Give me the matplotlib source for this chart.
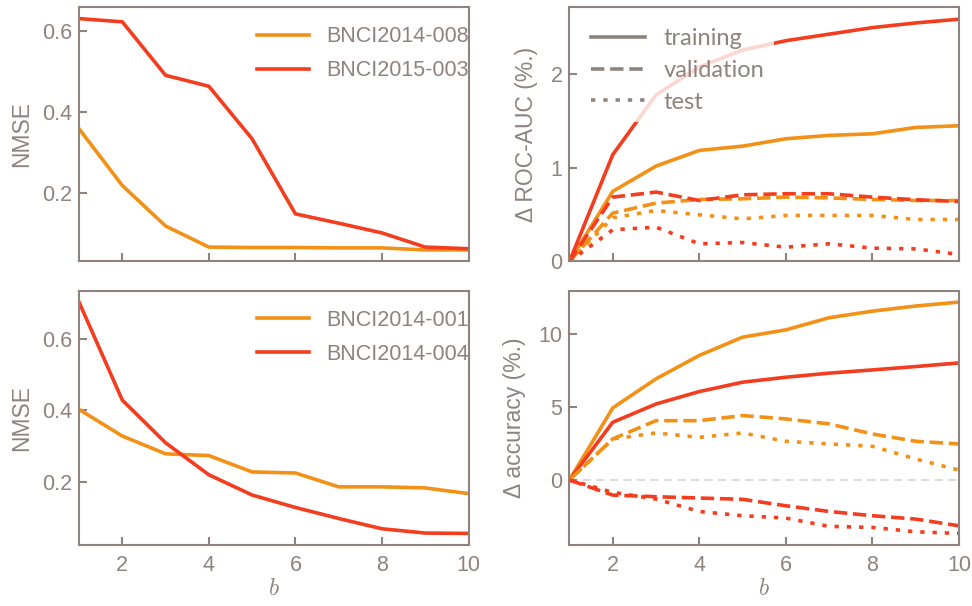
import numpy as np
import matplotlib
matplotlib.use('Agg')
import matplotlib.pyplot as plt
from matplotlib.lines import Line2D

plt.rcParams['font.family'] = ['Liberation Sans', 'DejaVu Sans']
plt.rcParams['mathtext.fontset'] = 'cm'

gray = '#8e837d'
orange = '#f39117'
red = '#f43c1f'

b = [1, 2, 3, 4, 5, 6, 7, 8, 9, 10]

# top-left: NMSE
nmse_008 = [0.358, 0.218, 0.118, 0.066, 0.065, 0.065, 0.064, 0.064, 0.059, 0.059]
nmse_003 = [0.630, 0.622, 0.490, 0.463, 0.333, 0.148, 0.125, 0.101, 0.066, 0.062]

# bottom-left: NMSE
nmse_001 = [0.403, 0.328, 0.278, 0.273, 0.227, 0.224, 0.185, 0.185, 0.182, 0.166]
nmse_004 = [0.705, 0.429, 0.309, 0.219, 0.162, 0.127, 0.096, 0.067, 0.055, 0.054]

# top-right: delta ROC-AUC
auc_train_o = [0, 0.749, 1.02, 1.187, 1.233, 1.312, 1.348, 1.365, 1.433, 1.451]
auc_train_r = [0, 1.141, 1.78, 2.08, 2.26, 2.36, 2.43, 2.50, 2.55, 2.59]
auc_val_o = [0, 0.517, 0.624, 0.663, 0.670, 0.688, 0.680, 0.663, 0.652, 0.652]
auc_val_r = [0, 0.688, 0.742, 0.652, 0.713, 0.724, 0.724, 0.688, 0.660, 0.642]
auc_test_o = [0, 0.467, 0.545, 0.499, 0.456, 0.492, 0.492, 0.492, 0.449, 0.449]
auc_test_r = [0, 0.339, 0.367, 0.189, 0.203, 0.153, 0.189, 0.143, 0.135, 0.075]

# bottom-right: delta accuracy
acc_train_o = [0, 4.93, 6.92, 8.52, 9.77, 10.27, 11.1, 11.55, 11.9, 12.17]
acc_train_r = [0, 3.95, 5.2, 6.05, 6.69, 7.03, 7.31, 7.53, 7.76, 8.01]
acc_val_o = [0, 2.81, 4.06, 4.06, 4.41, 4.18, 3.84, 3.15, 2.65, 2.47]
acc_val_r = [0, -1.03, -1.14, -1.23, -1.32, -1.76, -2.15, -2.44, -2.67, -3.13]
acc_test_o = [0, 2.81, 3.22, 2.92, 3.22, 2.65, 2.47, 2.31, 1.44, 0.68]
acc_test_r = [0, -0.84, -1.3, -2.15, -2.44, -2.6, -3.17, -3.24, -3.54, -3.65]

lw = 2.6
dash = (0, (3.7, 1.6))
dot = (0, (1.2, 2.2))

fig, axes = plt.subplots(2, 2, figsize=(9.72, 6.06), dpi=100, sharex=True)
fig.subplots_adjust(left=0.0813, right=0.9866, top=0.9884, bottom=0.1007,
                    wspace=0.259, hspace=0.114)

for ax in axes.flat:
    for s in ax.spines.values():
        s.set_color(gray)
        s.set_linewidth(1.5)
    ax.tick_params(direction='in', length=5.5, width=1.5, color=gray,
                   labelcolor=gray, labelsize=15.5, pad=5)
    ax.tick_params(axis='x', pad=7)
    ax.set_xlim(1, 10)
    ax.set_xticks([2, 4, 6, 8, 10])

ax = axes[0, 0]
ax.plot(b, nmse_008, color=orange, lw=lw, label='BNCI2014-008')
ax.plot(b, nmse_003, color=red, lw=lw, label='BNCI2015-003')
ax.set_yticks([0.2, 0.4, 0.6])
ax.set_ylabel('NMSE', color=gray, fontsize=16.5, labelpad=6)
ax.legend(loc='upper left', bbox_to_anchor=(0.408, 1.0), frameon=False,
          fontsize=15.5, handlelength=2.4, labelspacing=0.6, labelcolor=gray)

ax = axes[1, 0]
ax.plot(b, nmse_001, color=orange, lw=lw, label='BNCI2014-001')
ax.plot(b, nmse_004, color=red, lw=lw, label='BNCI2014-004')
ax.set_yticks([0.2, 0.4, 0.6])
ax.set_ylabel('NMSE', color=gray, fontsize=16.5, labelpad=6)
ax.set_xlabel('$b$', color=gray, fontsize=17, labelpad=2)
ax.legend(loc='upper left', bbox_to_anchor=(0.408, 1.0), frameon=False,
          fontsize=15.5, handlelength=2.4, labelspacing=0.6, labelcolor=gray)

ax = axes[0, 1]
ax.plot(b, auc_train_o, color=orange, lw=lw)
ax.plot(b, auc_train_r, color=red, lw=lw)
ax.plot(b, auc_val_o, color=orange, lw=lw, ls=dash)
ax.plot(b, auc_val_r, color=red, lw=lw, ls=dash)
ax.plot(b, auc_test_o, color=orange, lw=lw, ls=dot)
ax.plot(b, auc_test_r, color=red, lw=lw, ls=dot)
ax.set_ylim(0, 2.72)
ax.set_yticks([0, 1, 2])
ax.set_ylabel('Δ ROC-AUC (%.)', color=gray, fontsize=16.5, labelpad=9)
handles = [Line2D([], [], color=gray, lw=lw),
           Line2D([], [], color=gray, lw=lw, ls=dash),
           Line2D([], [], color=gray, lw=lw, ls=dot)]
ax.legend(handles, ['training', 'validation', 'test'], loc='upper left',
          prop={'family': ['Lato', 'DejaVu Sans'], 'size': 17},
          handlelength=2.3, labelspacing=0.45, labelcolor=gray,
          facecolor='white', framealpha=0.8, edgecolor='none', fancybox=False)

ax = axes[1, 1]
ax.axhline(0, color='#dddddd', lw=1.5, ls=(0, (4, 2.5)), zorder=1)
ax.plot(b, acc_train_o, color=orange, lw=lw)
ax.plot(b, acc_train_r, color=red, lw=lw)
ax.plot(b, acc_val_o, color=orange, lw=lw, ls=dash)
ax.plot(b, acc_val_r, color=red, lw=lw, ls=dash)
ax.plot(b, acc_test_o, color=orange, lw=lw, ls=dot)
ax.plot(b, acc_test_r, color=red, lw=lw, ls=dot)
ax.set_yticks([0, 5, 10])
ax.set_ylabel('Δ accuracy (%.)', color=gray, fontsize=16.5, labelpad=9)
ax.set_xlabel('$b$', color=gray, fontsize=17, labelpad=2)

for ax in axes[0]:
    ax.tick_params(labelbottom=False)

fig.savefig('out.png', dpi=100)
